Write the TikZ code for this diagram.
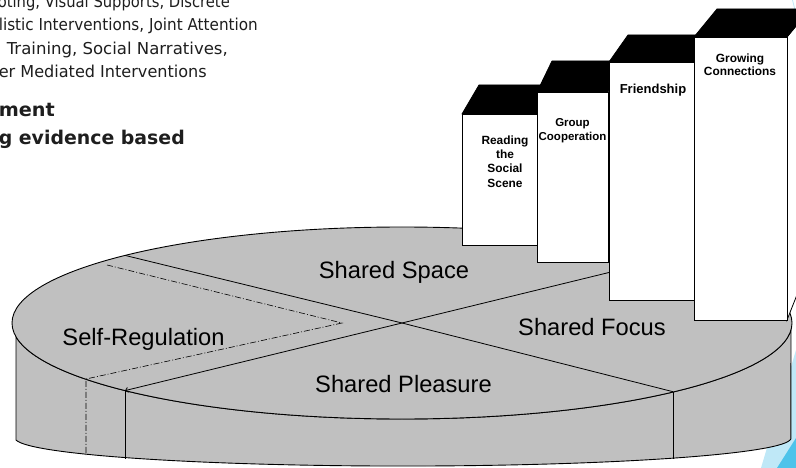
\documentclass[tikz,border=0pt]{standalone}
\usepackage{graphicx}
\usepackage{fontspec}
\setmainfont{Liberation Sans}
\newfontfamily\slidefont{DejaVu Sans}
\usetikzlibrary{arrows.meta}
\definecolor{diskgray}{HTML}{C0C0C0}
\definecolor{lblue}{HTML}{BFE8F7}
\definecolor{dblue}{HTML}{4DC3EA}
\definecolor{slidetext}{HTML}{1E1E1E}
\newcommand{\fitline}[2]{\resizebox{#1}{\height}{#2}}
\begin{document}
\begin{tikzpicture}[x=1pt,y=-1pt,
  toptext/.style={font=\slidefont\fontsize{16.4}{20}\selectfont, text=slidetext, inner sep=0, anchor=base east},
  boldtext/.style={font=\slidefont\bfseries\fontsize{18.9}{23}\selectfont, text=slidetext, inner sep=0, anchor=base east},
  disk/.style={fill=diskgray, draw=black, line width=0.9},
  sector/.style={draw=black, line width=0.8},
  dashdot/.style={draw=black, line width=0.6, dash pattern=on 6pt off 2pt on 1pt off 2pt},
  pielabel/.style={font=\fontsize{23.7}{28}\selectfont, inner sep=0, anchor=base},
  front/.style={fill=white, draw=black, line width=0.8},
  roof/.style={fill=black, draw=black, line width=0.8, line join=round},
  boxlabel/.style={font=\bfseries\fontsize{11.9}{14.3}\selectfont, align=center, inner sep=0}]
\useasboundingbox (0,0) rectangle (796,468);
\clip (0,0) rectangle (796,468);
% slide decorations
\fill[lblue] (761,468) -- (796,350) -- (796,468) -- cycle;
\fill[dblue] (777,468) -- (796,438) -- (796,468) -- cycle;
\draw[lblue, line width=0.8] (792.5,0) -- (795,10);
% slide text (cropped by the frame)
\node[toptext] (l1) at (230,7.5) {\fitline{232pt}{oting, Visual Supports, Discrete}};
\node[toptext] (l2) at (258,31) {\fitline{259pt}{listic Interventions, Joint Attention}};
\node[toptext] (l3) at (228,54.5) {\fitline{221pt}{Training, Social Narratives,}};
\node[toptext] (l4) at (207,78) {\fitline{208pt}{er Mediated Interventions}};
\node[boldtext] (b1) at (55,117) {\fitline{56pt}{ment}};
\node[boldtext] (b2) at (185,145) {\fitline{186pt}{g evidence based}};
% cylinder side
\path[disk] (16,336.7) -- (16,440) arc[start angle=176, end angle=2, x radius=388, y radius=28]
  -- (791,329.7) arc[start angle=4, end angle=172, x radius=390, y radius=96] -- cycle;
% top
\coordinate (C) at (402,323);
\draw[disk] (C) ellipse[x radius=390, y radius=96];
\coordinate (ul) at (125,255.4);
\coordinate (ll) at (125,390.6);
\coordinate (ur) at (679,255.4);
\coordinate (lr) at (673,391.7);
\coordinate (llb) at (125,458.5);
\coordinate (lrb) at (673,459);
\draw[sector] (ul) -- (C) -- (lr);
\draw[sector] (ur) -- (C);
\draw[sector, -{Straight Barb[length=2.5pt,width=5pt]}] (C) -- (ll);
\draw[sector] (ll) -- (llb);
\draw[sector] (lr) -- (lrb);
\coordinate (d1) at (107,265);
\coordinate (d2) at (342,323);
\coordinate (d3) at (86,379);
\coordinate (d4) at (86,455);
\draw[dashdot] (d1) -- (d2) -- (d3) -- (d4);
% pie labels
\node[pielabel] (space) at (394,279) {Shared Space};
\node[pielabel] (selfreg) at (143.5,345) {Self-Regulation};
\node[pielabel] (focus) at (592,335) {Shared Focus};
\node[pielabel] (pleasure) at (403.5,392) {Shared Pleasure};
% steps
\draw[front] (462,114) rectangle (537,245);
\draw[roof] (462,114) -- (479,85) -- (560,85) -- (537,114) -- cycle;
\node[boxlabel] (t1) at (505,161.5) {Reading\\the\\Social\\Scene};
\draw[front] (537,92) rectangle (608,262);
\draw[roof] (537,92) -- (552,61) -- (623,61) -- (608,92) -- cycle;
\node[boxlabel, font=\bfseries\fontsize{11.5}{14}\selectfont] (t2) at (572.5,131) {Group\\Cooperation};
\draw[front] (609,62) rectangle (694,300);
\draw[roof] (609,62) -- (628,35) -- (713,35) -- (694,62) -- cycle;
\node[boxlabel, font=\bfseries\fontsize{13}{15}\selectfont, anchor=base] (t3) at (653,94) {Friendship};
\draw[front] (787,37) -- (810,9) -- (810,262) -- (787,320) -- cycle;
\draw[front] (694,37) rectangle (787,320);
\draw[roof] (694,37) -- (717,9) -- (810,9) -- (787,37) -- cycle;
\node[boxlabel, font=\bfseries\fontsize{11.9}{13.5}\selectfont] (t4) at (740,64.5) {Growing\\Connections};
\end{tikzpicture}
\end{document}
